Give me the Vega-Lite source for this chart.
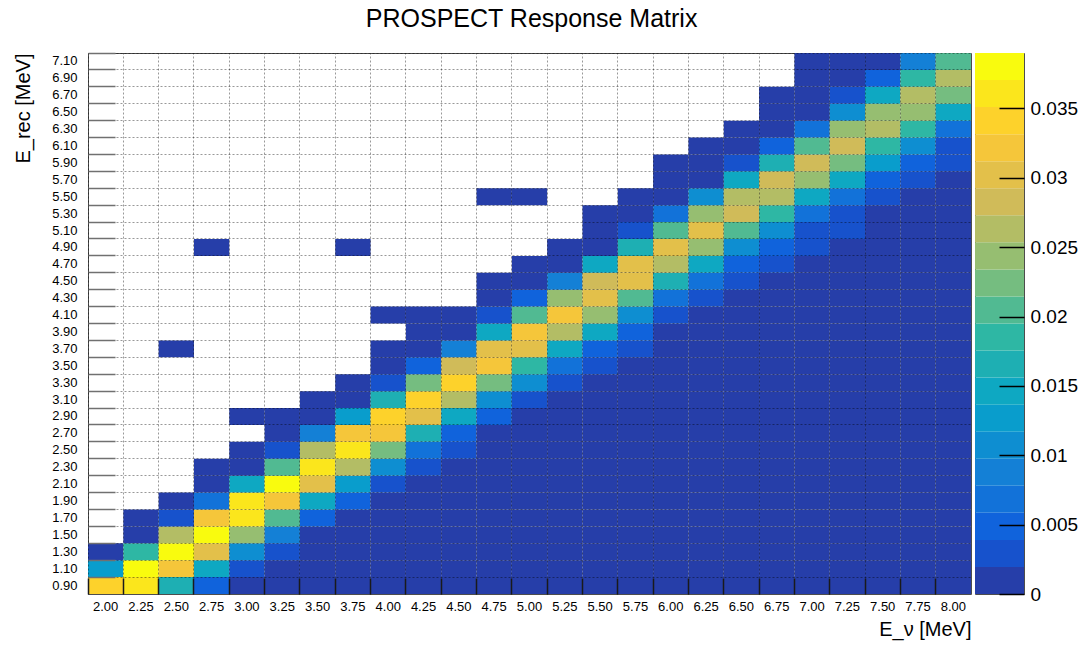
{
"$schema": "https://vega.github.io/schema/vega-lite/v6.json",
"title": {"text": "PROSPECT Response Matrix", "fontSize": 25, "fontWeight": "normal", "font": "Liberation Sans", "anchor": "middle", "offset": 20, "dx": -14, "color": "#000"},
"padding": {"left": 13, "top": 6, "right": 5, "bottom": 2},
"spacing": 2,
"datasets": {
"bands": [
{"lo":0,"hi":0.00195,"mid":0.000975},{"lo":0.00195,"hi":0.0039,"mid":0.002925},{"lo":0.0039,"hi":0.00585,"mid":0.004875},{"lo":0.00585,"hi":0.0078,"mid":0.006825},{"lo":0.0078,"hi":0.00975,"mid":0.008775},{"lo":0.00975,"hi":0.0117,"mid":0.010725},{"lo":0.0117,"hi":0.01365,"mid":0.012675},{"lo":0.01365,"hi":0.0156,"mid":0.014625},{"lo":0.0156,"hi":0.01755,"mid":0.016575},{"lo":0.01755,"hi":0.0195,"mid":0.018525},{"lo":0.0195,"hi":0.02145,"mid":0.020475},{"lo":0.02145,"hi":0.0234,"mid":0.022425},{"lo":0.0234,"hi":0.02535,"mid":0.024375},{"lo":0.02535,"hi":0.0273,"mid":0.026325},{"lo":0.0273,"hi":0.02925,"mid":0.028275},{"lo":0.02925,"hi":0.0312,"mid":0.030225},{"lo":0.0312,"hi":0.03315,"mid":0.032175},{"lo":0.03315,"hi":0.0351,"mid":0.034125},{"lo":0.0351,"hi":0.03705,"mid":0.036075},{"lo":0.03705,"hi":0.039,"mid":0.038025}
],
"cells": [
{"Enu":"2.00","Erec":"0.90","w":0.0341},{"Enu":"2.25","Erec":"0.90","w":0.0361},{"Enu":"2.50","Erec":"0.90","w":0.0166},{"Enu":"2.75","Erec":"0.90","w":0.0049},{"Enu":"3.00","Erec":"0.90","w":0.0005},{"Enu":"3.25","Erec":"0.90","w":0.0005},{"Enu":"3.50","Erec":"0.90","w":0.0005},{"Enu":"3.75","Erec":"0.90","w":0.0005},{"Enu":"4.00","Erec":"0.90","w":0.0005},{"Enu":"4.25","Erec":"0.90","w":0.0005},{"Enu":"4.50","Erec":"0.90","w":0.0005},{"Enu":"4.75","Erec":"0.90","w":0.0005},{"Enu":"5.00","Erec":"0.90","w":0.0005},{"Enu":"5.25","Erec":"0.90","w":0.0005},{"Enu":"5.50","Erec":"0.90","w":0.0005},{"Enu":"5.75","Erec":"0.90","w":0.0005},{"Enu":"6.00","Erec":"0.90","w":0.0005},{"Enu":"6.25","Erec":"0.90","w":0.0005},{"Enu":"6.50","Erec":"0.90","w":0.0005},{"Enu":"6.75","Erec":"0.90","w":0.0005},{"Enu":"7.00","Erec":"0.90","w":0.0005},{"Enu":"7.25","Erec":"0.90","w":0.0005},{"Enu":"7.50","Erec":"0.90","w":0.0005},{"Enu":"7.75","Erec":"0.90","w":0.0005},{"Enu":"8.00","Erec":"0.90","w":0.0005},
{"Enu":"2.00","Erec":"1.10","w":0.0127},{"Enu":"2.25","Erec":"1.10","w":0.038},{"Enu":"2.50","Erec":"1.10","w":0.0322},{"Enu":"2.75","Erec":"1.10","w":0.0146},{"Enu":"3.00","Erec":"1.10","w":0.0029},{"Enu":"3.25","Erec":"1.10","w":0.0005},{"Enu":"3.50","Erec":"1.10","w":0.0005},{"Enu":"3.75","Erec":"1.10","w":0.0005},{"Enu":"4.00","Erec":"1.10","w":0.0005},{"Enu":"4.25","Erec":"1.10","w":0.0005},{"Enu":"4.50","Erec":"1.10","w":0.0005},{"Enu":"4.75","Erec":"1.10","w":0.0005},{"Enu":"5.00","Erec":"1.10","w":0.0005},{"Enu":"5.25","Erec":"1.10","w":0.0005},{"Enu":"5.50","Erec":"1.10","w":0.0005},{"Enu":"5.75","Erec":"1.10","w":0.0005},{"Enu":"6.00","Erec":"1.10","w":0.0005},{"Enu":"6.25","Erec":"1.10","w":0.0005},{"Enu":"6.50","Erec":"1.10","w":0.0005},{"Enu":"6.75","Erec":"1.10","w":0.0005},{"Enu":"7.00","Erec":"1.10","w":0.0005},{"Enu":"7.25","Erec":"1.10","w":0.0005},{"Enu":"7.50","Erec":"1.10","w":0.0005},{"Enu":"7.75","Erec":"1.10","w":0.0005},{"Enu":"8.00","Erec":"1.10","w":0.0005},
{"Enu":"2.00","Erec":"1.30","w":0.0005},{"Enu":"2.25","Erec":"1.30","w":0.0185},{"Enu":"2.50","Erec":"1.30","w":0.038},{"Enu":"2.75","Erec":"1.30","w":0.0302},{"Enu":"3.00","Erec":"1.30","w":0.0107},{"Enu":"3.25","Erec":"1.30","w":0.0029},{"Enu":"3.50","Erec":"1.30","w":0.0005},{"Enu":"3.75","Erec":"1.30","w":0.0005},{"Enu":"4.00","Erec":"1.30","w":0.0005},{"Enu":"4.25","Erec":"1.30","w":0.0005},{"Enu":"4.50","Erec":"1.30","w":0.0005},{"Enu":"4.75","Erec":"1.30","w":0.0005},{"Enu":"5.00","Erec":"1.30","w":0.0005},{"Enu":"5.25","Erec":"1.30","w":0.0005},{"Enu":"5.50","Erec":"1.30","w":0.0005},{"Enu":"5.75","Erec":"1.30","w":0.0005},{"Enu":"6.00","Erec":"1.30","w":0.0005},{"Enu":"6.25","Erec":"1.30","w":0.0005},{"Enu":"6.50","Erec":"1.30","w":0.0005},{"Enu":"6.75","Erec":"1.30","w":0.0005},{"Enu":"7.00","Erec":"1.30","w":0.0005},{"Enu":"7.25","Erec":"1.30","w":0.0005},{"Enu":"7.50","Erec":"1.30","w":0.0005},{"Enu":"7.75","Erec":"1.30","w":0.0005},{"Enu":"8.00","Erec":"1.30","w":0.0005},
{"Enu":"2.25","Erec":"1.50","w":0.0005},{"Enu":"2.50","Erec":"1.50","w":0.0263},{"Enu":"2.75","Erec":"1.50","w":0.038},{"Enu":"3.00","Erec":"1.50","w":0.0244},{"Enu":"3.25","Erec":"1.50","w":0.0088},{"Enu":"3.50","Erec":"1.50","w":0.0005},{"Enu":"3.75","Erec":"1.50","w":0.0005},{"Enu":"4.00","Erec":"1.50","w":0.0005},{"Enu":"4.25","Erec":"1.50","w":0.0005},{"Enu":"4.50","Erec":"1.50","w":0.0005},{"Enu":"4.75","Erec":"1.50","w":0.0005},{"Enu":"5.00","Erec":"1.50","w":0.0005},{"Enu":"5.25","Erec":"1.50","w":0.0005},{"Enu":"5.50","Erec":"1.50","w":0.0005},{"Enu":"5.75","Erec":"1.50","w":0.0005},{"Enu":"6.00","Erec":"1.50","w":0.0005},{"Enu":"6.25","Erec":"1.50","w":0.0005},{"Enu":"6.50","Erec":"1.50","w":0.0005},{"Enu":"6.75","Erec":"1.50","w":0.0005},{"Enu":"7.00","Erec":"1.50","w":0.0005},{"Enu":"7.25","Erec":"1.50","w":0.0005},{"Enu":"7.50","Erec":"1.50","w":0.0005},{"Enu":"7.75","Erec":"1.50","w":0.0005},{"Enu":"8.00","Erec":"1.50","w":0.0005},
{"Enu":"2.25","Erec":"1.70","w":0.0005},{"Enu":"2.50","Erec":"1.70","w":0.0029},{"Enu":"2.75","Erec":"1.70","w":0.0322},{"Enu":"3.00","Erec":"1.70","w":0.0361},{"Enu":"3.25","Erec":"1.70","w":0.0205},{"Enu":"3.50","Erec":"1.70","w":0.0049},{"Enu":"3.75","Erec":"1.70","w":0.0005},{"Enu":"4.00","Erec":"1.70","w":0.0005},{"Enu":"4.25","Erec":"1.70","w":0.0005},{"Enu":"4.50","Erec":"1.70","w":0.0005},{"Enu":"4.75","Erec":"1.70","w":0.0005},{"Enu":"5.00","Erec":"1.70","w":0.0005},{"Enu":"5.25","Erec":"1.70","w":0.0005},{"Enu":"5.50","Erec":"1.70","w":0.0005},{"Enu":"5.75","Erec":"1.70","w":0.0005},{"Enu":"6.00","Erec":"1.70","w":0.0005},{"Enu":"6.25","Erec":"1.70","w":0.0005},{"Enu":"6.50","Erec":"1.70","w":0.0005},{"Enu":"6.75","Erec":"1.70","w":0.0005},{"Enu":"7.00","Erec":"1.70","w":0.0005},{"Enu":"7.25","Erec":"1.70","w":0.0005},{"Enu":"7.50","Erec":"1.70","w":0.0005},{"Enu":"7.75","Erec":"1.70","w":0.0005},{"Enu":"8.00","Erec":"1.70","w":0.0005},
{"Enu":"2.50","Erec":"1.90","w":0.0005},{"Enu":"2.75","Erec":"1.90","w":0.0068},{"Enu":"3.00","Erec":"1.90","w":0.0361},{"Enu":"3.25","Erec":"1.90","w":0.0322},{"Enu":"3.50","Erec":"1.90","w":0.0146},{"Enu":"3.75","Erec":"1.90","w":0.0049},{"Enu":"4.00","Erec":"1.90","w":0.0005},{"Enu":"4.25","Erec":"1.90","w":0.0005},{"Enu":"4.50","Erec":"1.90","w":0.0005},{"Enu":"4.75","Erec":"1.90","w":0.0005},{"Enu":"5.00","Erec":"1.90","w":0.0005},{"Enu":"5.25","Erec":"1.90","w":0.0005},{"Enu":"5.50","Erec":"1.90","w":0.0005},{"Enu":"5.75","Erec":"1.90","w":0.0005},{"Enu":"6.00","Erec":"1.90","w":0.0005},{"Enu":"6.25","Erec":"1.90","w":0.0005},{"Enu":"6.50","Erec":"1.90","w":0.0005},{"Enu":"6.75","Erec":"1.90","w":0.0005},{"Enu":"7.00","Erec":"1.90","w":0.0005},{"Enu":"7.25","Erec":"1.90","w":0.0005},{"Enu":"7.50","Erec":"1.90","w":0.0005},{"Enu":"7.75","Erec":"1.90","w":0.0005},{"Enu":"8.00","Erec":"1.90","w":0.0005},
{"Enu":"2.75","Erec":"2.10","w":0.0005},{"Enu":"3.00","Erec":"2.10","w":0.0146},{"Enu":"3.25","Erec":"2.10","w":0.038},{"Enu":"3.50","Erec":"2.10","w":0.0302},{"Enu":"3.75","Erec":"2.10","w":0.0127},{"Enu":"4.00","Erec":"2.10","w":0.0029},{"Enu":"4.25","Erec":"2.10","w":0.0005},{"Enu":"4.50","Erec":"2.10","w":0.0005},{"Enu":"4.75","Erec":"2.10","w":0.0005},{"Enu":"5.00","Erec":"2.10","w":0.0005},{"Enu":"5.25","Erec":"2.10","w":0.0005},{"Enu":"5.50","Erec":"2.10","w":0.0005},{"Enu":"5.75","Erec":"2.10","w":0.0005},{"Enu":"6.00","Erec":"2.10","w":0.0005},{"Enu":"6.25","Erec":"2.10","w":0.0005},{"Enu":"6.50","Erec":"2.10","w":0.0005},{"Enu":"6.75","Erec":"2.10","w":0.0005},{"Enu":"7.00","Erec":"2.10","w":0.0005},{"Enu":"7.25","Erec":"2.10","w":0.0005},{"Enu":"7.50","Erec":"2.10","w":0.0005},{"Enu":"7.75","Erec":"2.10","w":0.0005},{"Enu":"8.00","Erec":"2.10","w":0.0005},
{"Enu":"2.75","Erec":"2.30","w":0.0005},{"Enu":"3.00","Erec":"2.30","w":0.0005},{"Enu":"3.25","Erec":"2.30","w":0.0205},{"Enu":"3.50","Erec":"2.30","w":0.0361},{"Enu":"3.75","Erec":"2.30","w":0.0263},{"Enu":"4.00","Erec":"2.30","w":0.0107},{"Enu":"4.25","Erec":"2.30","w":0.0029},{"Enu":"4.50","Erec":"2.30","w":0.0005},{"Enu":"4.75","Erec":"2.30","w":0.0005},{"Enu":"5.00","Erec":"2.30","w":0.0005},{"Enu":"5.25","Erec":"2.30","w":0.0005},{"Enu":"5.50","Erec":"2.30","w":0.0005},{"Enu":"5.75","Erec":"2.30","w":0.0005},{"Enu":"6.00","Erec":"2.30","w":0.0005},{"Enu":"6.25","Erec":"2.30","w":0.0005},{"Enu":"6.50","Erec":"2.30","w":0.0005},{"Enu":"6.75","Erec":"2.30","w":0.0005},{"Enu":"7.00","Erec":"2.30","w":0.0005},{"Enu":"7.25","Erec":"2.30","w":0.0005},{"Enu":"7.50","Erec":"2.30","w":0.0005},{"Enu":"7.75","Erec":"2.30","w":0.0005},{"Enu":"8.00","Erec":"2.30","w":0.0005},
{"Enu":"3.00","Erec":"2.50","w":0.0005},{"Enu":"3.25","Erec":"2.50","w":0.0029},{"Enu":"3.50","Erec":"2.50","w":0.0263},{"Enu":"3.75","Erec":"2.50","w":0.0361},{"Enu":"4.00","Erec":"2.50","w":0.0224},{"Enu":"4.25","Erec":"2.50","w":0.0068},{"Enu":"4.50","Erec":"2.50","w":0.0029},{"Enu":"4.75","Erec":"2.50","w":0.0005},{"Enu":"5.00","Erec":"2.50","w":0.0005},{"Enu":"5.25","Erec":"2.50","w":0.0005},{"Enu":"5.50","Erec":"2.50","w":0.0005},{"Enu":"5.75","Erec":"2.50","w":0.0005},{"Enu":"6.00","Erec":"2.50","w":0.0005},{"Enu":"6.25","Erec":"2.50","w":0.0005},{"Enu":"6.50","Erec":"2.50","w":0.0005},{"Enu":"6.75","Erec":"2.50","w":0.0005},{"Enu":"7.00","Erec":"2.50","w":0.0005},{"Enu":"7.25","Erec":"2.50","w":0.0005},{"Enu":"7.50","Erec":"2.50","w":0.0005},{"Enu":"7.75","Erec":"2.50","w":0.0005},{"Enu":"8.00","Erec":"2.50","w":0.0005},
{"Enu":"3.25","Erec":"2.70","w":0.0005},{"Enu":"3.50","Erec":"2.70","w":0.0088},{"Enu":"3.75","Erec":"2.70","w":0.0322},{"Enu":"4.00","Erec":"2.70","w":0.0322},{"Enu":"4.25","Erec":"2.70","w":0.0166},{"Enu":"4.50","Erec":"2.70","w":0.0049},{"Enu":"4.75","Erec":"2.70","w":0.0005},{"Enu":"5.00","Erec":"2.70","w":0.0005},{"Enu":"5.25","Erec":"2.70","w":0.0005},{"Enu":"5.50","Erec":"2.70","w":0.0005},{"Enu":"5.75","Erec":"2.70","w":0.0005},{"Enu":"6.00","Erec":"2.70","w":0.0005},{"Enu":"6.25","Erec":"2.70","w":0.0005},{"Enu":"6.50","Erec":"2.70","w":0.0005},{"Enu":"6.75","Erec":"2.70","w":0.0005},{"Enu":"7.00","Erec":"2.70","w":0.0005},{"Enu":"7.25","Erec":"2.70","w":0.0005},{"Enu":"7.50","Erec":"2.70","w":0.0005},{"Enu":"7.75","Erec":"2.70","w":0.0005},{"Enu":"8.00","Erec":"2.70","w":0.0005},
{"Enu":"3.00","Erec":"2.90","w":0.0005},{"Enu":"3.25","Erec":"2.90","w":0.0005},{"Enu":"3.50","Erec":"2.90","w":0.0005},{"Enu":"3.75","Erec":"2.90","w":0.0127},{"Enu":"4.00","Erec":"2.90","w":0.0341},{"Enu":"4.25","Erec":"2.90","w":0.0302},{"Enu":"4.50","Erec":"2.90","w":0.0146},{"Enu":"4.75","Erec":"2.90","w":0.0049},{"Enu":"5.00","Erec":"2.90","w":0.0005},{"Enu":"5.25","Erec":"2.90","w":0.0005},{"Enu":"5.50","Erec":"2.90","w":0.0005},{"Enu":"5.75","Erec":"2.90","w":0.0005},{"Enu":"6.00","Erec":"2.90","w":0.0005},{"Enu":"6.25","Erec":"2.90","w":0.0005},{"Enu":"6.50","Erec":"2.90","w":0.0005},{"Enu":"6.75","Erec":"2.90","w":0.0005},{"Enu":"7.00","Erec":"2.90","w":0.0005},{"Enu":"7.25","Erec":"2.90","w":0.0005},{"Enu":"7.50","Erec":"2.90","w":0.0005},{"Enu":"7.75","Erec":"2.90","w":0.0005},{"Enu":"8.00","Erec":"2.90","w":0.0005},
{"Enu":"3.50","Erec":"3.10","w":0.0005},{"Enu":"3.75","Erec":"3.10","w":0.0005},{"Enu":"4.00","Erec":"3.10","w":0.0166},{"Enu":"4.25","Erec":"3.10","w":0.0341},{"Enu":"4.50","Erec":"3.10","w":0.0263},{"Enu":"4.75","Erec":"3.10","w":0.0107},{"Enu":"5.00","Erec":"3.10","w":0.0029},{"Enu":"5.25","Erec":"3.10","w":0.0005},{"Enu":"5.50","Erec":"3.10","w":0.0005},{"Enu":"5.75","Erec":"3.10","w":0.0005},{"Enu":"6.00","Erec":"3.10","w":0.0005},{"Enu":"6.25","Erec":"3.10","w":0.0005},{"Enu":"6.50","Erec":"3.10","w":0.0005},{"Enu":"6.75","Erec":"3.10","w":0.0005},{"Enu":"7.00","Erec":"3.10","w":0.0005},{"Enu":"7.25","Erec":"3.10","w":0.0005},{"Enu":"7.50","Erec":"3.10","w":0.0005},{"Enu":"7.75","Erec":"3.10","w":0.0005},{"Enu":"8.00","Erec":"3.10","w":0.0005},
{"Enu":"3.75","Erec":"3.30","w":0.0005},{"Enu":"4.00","Erec":"3.30","w":0.0029},{"Enu":"4.25","Erec":"3.30","w":0.0224},{"Enu":"4.50","Erec":"3.30","w":0.0341},{"Enu":"4.75","Erec":"3.30","w":0.0224},{"Enu":"5.00","Erec":"3.30","w":0.0107},{"Enu":"5.25","Erec":"3.30","w":0.0029},{"Enu":"5.50","Erec":"3.30","w":0.0005},{"Enu":"5.75","Erec":"3.30","w":0.0005},{"Enu":"6.00","Erec":"3.30","w":0.0005},{"Enu":"6.25","Erec":"3.30","w":0.0005},{"Enu":"6.50","Erec":"3.30","w":0.0005},{"Enu":"6.75","Erec":"3.30","w":0.0005},{"Enu":"7.00","Erec":"3.30","w":0.0005},{"Enu":"7.25","Erec":"3.30","w":0.0005},{"Enu":"7.50","Erec":"3.30","w":0.0005},{"Enu":"7.75","Erec":"3.30","w":0.0005},{"Enu":"8.00","Erec":"3.30","w":0.0005},
{"Enu":"4.00","Erec":"3.50","w":0.0005},{"Enu":"4.25","Erec":"3.50","w":0.0049},{"Enu":"4.50","Erec":"3.50","w":0.0283},{"Enu":"4.75","Erec":"3.50","w":0.0322},{"Enu":"5.00","Erec":"3.50","w":0.0185},{"Enu":"5.25","Erec":"3.50","w":0.0068},{"Enu":"5.50","Erec":"3.50","w":0.0029},{"Enu":"5.75","Erec":"3.50","w":0.0005},{"Enu":"6.00","Erec":"3.50","w":0.0005},{"Enu":"6.25","Erec":"3.50","w":0.0005},{"Enu":"6.50","Erec":"3.50","w":0.0005},{"Enu":"6.75","Erec":"3.50","w":0.0005},{"Enu":"7.00","Erec":"3.50","w":0.0005},{"Enu":"7.25","Erec":"3.50","w":0.0005},{"Enu":"7.50","Erec":"3.50","w":0.0005},{"Enu":"7.75","Erec":"3.50","w":0.0005},{"Enu":"8.00","Erec":"3.50","w":0.0005},
{"Enu":"2.50","Erec":"3.70","w":0.0005},{"Enu":"4.00","Erec":"3.70","w":0.0005},{"Enu":"4.25","Erec":"3.70","w":0.0005},{"Enu":"4.50","Erec":"3.70","w":0.0088},{"Enu":"4.75","Erec":"3.70","w":0.0302},{"Enu":"5.00","Erec":"3.70","w":0.0302},{"Enu":"5.25","Erec":"3.70","w":0.0146},{"Enu":"5.50","Erec":"3.70","w":0.0049},{"Enu":"5.75","Erec":"3.70","w":0.0029},{"Enu":"6.00","Erec":"3.70","w":0.0005},{"Enu":"6.25","Erec":"3.70","w":0.0005},{"Enu":"6.50","Erec":"3.70","w":0.0005},{"Enu":"6.75","Erec":"3.70","w":0.0005},{"Enu":"7.00","Erec":"3.70","w":0.0005},{"Enu":"7.25","Erec":"3.70","w":0.0005},{"Enu":"7.50","Erec":"3.70","w":0.0005},{"Enu":"7.75","Erec":"3.70","w":0.0005},{"Enu":"8.00","Erec":"3.70","w":0.0005},
{"Enu":"4.25","Erec":"3.90","w":0.0005},{"Enu":"4.50","Erec":"3.90","w":0.0005},{"Enu":"4.75","Erec":"3.90","w":0.0146},{"Enu":"5.00","Erec":"3.90","w":0.0322},{"Enu":"5.25","Erec":"3.90","w":0.0263},{"Enu":"5.50","Erec":"3.90","w":0.0146},{"Enu":"5.75","Erec":"3.90","w":0.0049},{"Enu":"6.00","Erec":"3.90","w":0.0005},{"Enu":"6.25","Erec":"3.90","w":0.0005},{"Enu":"6.50","Erec":"3.90","w":0.0005},{"Enu":"6.75","Erec":"3.90","w":0.0005},{"Enu":"7.00","Erec":"3.90","w":0.0005},{"Enu":"7.25","Erec":"3.90","w":0.0005},{"Enu":"7.50","Erec":"3.90","w":0.0005},{"Enu":"7.75","Erec":"3.90","w":0.0005},{"Enu":"8.00","Erec":"3.90","w":0.0005},
{"Enu":"4.00","Erec":"4.10","w":0.0005},{"Enu":"4.25","Erec":"4.10","w":0.0005},{"Enu":"4.50","Erec":"4.10","w":0.0005},{"Enu":"4.75","Erec":"4.10","w":0.0029},{"Enu":"5.00","Erec":"4.10","w":0.0205},{"Enu":"5.25","Erec":"4.10","w":0.0322},{"Enu":"5.50","Erec":"4.10","w":0.0244},{"Enu":"5.75","Erec":"4.10","w":0.0107},{"Enu":"6.00","Erec":"4.10","w":0.0029},{"Enu":"6.25","Erec":"4.10","w":0.0005},{"Enu":"6.50","Erec":"4.10","w":0.0005},{"Enu":"6.75","Erec":"4.10","w":0.0005},{"Enu":"7.00","Erec":"4.10","w":0.0005},{"Enu":"7.25","Erec":"4.10","w":0.0005},{"Enu":"7.50","Erec":"4.10","w":0.0005},{"Enu":"7.75","Erec":"4.10","w":0.0005},{"Enu":"8.00","Erec":"4.10","w":0.0005},
{"Enu":"4.75","Erec":"4.30","w":0.0005},{"Enu":"5.00","Erec":"4.30","w":0.0049},{"Enu":"5.25","Erec":"4.30","w":0.0244},{"Enu":"5.50","Erec":"4.30","w":0.0302},{"Enu":"5.75","Erec":"4.30","w":0.0205},{"Enu":"6.00","Erec":"4.30","w":0.0068},{"Enu":"6.25","Erec":"4.30","w":0.0029},{"Enu":"6.50","Erec":"4.30","w":0.0005},{"Enu":"6.75","Erec":"4.30","w":0.0005},{"Enu":"7.00","Erec":"4.30","w":0.0005},{"Enu":"7.25","Erec":"4.30","w":0.0005},{"Enu":"7.50","Erec":"4.30","w":0.0005},{"Enu":"7.75","Erec":"4.30","w":0.0005},{"Enu":"8.00","Erec":"4.30","w":0.0005},
{"Enu":"4.75","Erec":"4.50","w":0.0005},{"Enu":"5.00","Erec":"4.50","w":0.0005},{"Enu":"5.25","Erec":"4.50","w":0.0088},{"Enu":"5.50","Erec":"4.50","w":0.0283},{"Enu":"5.75","Erec":"4.50","w":0.0302},{"Enu":"6.00","Erec":"4.50","w":0.0166},{"Enu":"6.25","Erec":"4.50","w":0.0068},{"Enu":"6.50","Erec":"4.50","w":0.0029},{"Enu":"6.75","Erec":"4.50","w":0.0005},{"Enu":"7.00","Erec":"4.50","w":0.0005},{"Enu":"7.25","Erec":"4.50","w":0.0005},{"Enu":"7.50","Erec":"4.50","w":0.0005},{"Enu":"7.75","Erec":"4.50","w":0.0005},{"Enu":"8.00","Erec":"4.50","w":0.0005},
{"Enu":"5.00","Erec":"4.70","w":0.0005},{"Enu":"5.25","Erec":"4.70","w":0.0005},{"Enu":"5.50","Erec":"4.70","w":0.0146},{"Enu":"5.75","Erec":"4.70","w":0.0302},{"Enu":"6.00","Erec":"4.70","w":0.0263},{"Enu":"6.25","Erec":"4.70","w":0.0146},{"Enu":"6.50","Erec":"4.70","w":0.0049},{"Enu":"6.75","Erec":"4.70","w":0.0029},{"Enu":"7.00","Erec":"4.70","w":0.0005},{"Enu":"7.25","Erec":"4.70","w":0.0005},{"Enu":"7.50","Erec":"4.70","w":0.0005},{"Enu":"7.75","Erec":"4.70","w":0.0005},{"Enu":"8.00","Erec":"4.70","w":0.0005},
{"Enu":"2.75","Erec":"4.90","w":0.0005},{"Enu":"3.75","Erec":"4.90","w":0.0005},{"Enu":"5.25","Erec":"4.90","w":0.0005},{"Enu":"5.50","Erec":"4.90","w":0.0005},{"Enu":"5.75","Erec":"4.90","w":0.0166},{"Enu":"6.00","Erec":"4.90","w":0.0302},{"Enu":"6.25","Erec":"4.90","w":0.0244},{"Enu":"6.50","Erec":"4.90","w":0.0107},{"Enu":"6.75","Erec":"4.90","w":0.0049},{"Enu":"7.00","Erec":"4.90","w":0.0029},{"Enu":"7.25","Erec":"4.90","w":0.0005},{"Enu":"7.50","Erec":"4.90","w":0.0005},{"Enu":"7.75","Erec":"4.90","w":0.0005},{"Enu":"8.00","Erec":"4.90","w":0.0005},
{"Enu":"5.50","Erec":"5.10","w":0.0005},{"Enu":"5.75","Erec":"5.10","w":0.0029},{"Enu":"6.00","Erec":"5.10","w":0.0205},{"Enu":"6.25","Erec":"5.10","w":0.0302},{"Enu":"6.50","Erec":"5.10","w":0.0205},{"Enu":"6.75","Erec":"5.10","w":0.0107},{"Enu":"7.00","Erec":"5.10","w":0.0029},{"Enu":"7.25","Erec":"5.10","w":0.0029},{"Enu":"7.50","Erec":"5.10","w":0.0005},{"Enu":"7.75","Erec":"5.10","w":0.0005},{"Enu":"8.00","Erec":"5.10","w":0.0005},
{"Enu":"5.50","Erec":"5.30","w":0.0005},{"Enu":"5.75","Erec":"5.30","w":0.0005},{"Enu":"6.00","Erec":"5.30","w":0.0068},{"Enu":"6.25","Erec":"5.30","w":0.0244},{"Enu":"6.50","Erec":"5.30","w":0.0283},{"Enu":"6.75","Erec":"5.30","w":0.0185},{"Enu":"7.00","Erec":"5.30","w":0.0068},{"Enu":"7.25","Erec":"5.30","w":0.0029},{"Enu":"7.50","Erec":"5.30","w":0.0005},{"Enu":"7.75","Erec":"5.30","w":0.0005},{"Enu":"8.00","Erec":"5.30","w":0.0005},
{"Enu":"4.75","Erec":"5.50","w":0.0005},{"Enu":"5.00","Erec":"5.50","w":0.0005},{"Enu":"5.75","Erec":"5.50","w":0.0005},{"Enu":"6.00","Erec":"5.50","w":0.0005},{"Enu":"6.25","Erec":"5.50","w":0.0107},{"Enu":"6.50","Erec":"5.50","w":0.0263},{"Enu":"6.75","Erec":"5.50","w":0.0263},{"Enu":"7.00","Erec":"5.50","w":0.0146},{"Enu":"7.25","Erec":"5.50","w":0.0068},{"Enu":"7.50","Erec":"5.50","w":0.0029},{"Enu":"7.75","Erec":"5.50","w":0.0005},{"Enu":"8.00","Erec":"5.50","w":0.0005},
{"Enu":"6.00","Erec":"5.70","w":0.0005},{"Enu":"6.25","Erec":"5.70","w":0.0005},{"Enu":"6.50","Erec":"5.70","w":0.0146},{"Enu":"6.75","Erec":"5.70","w":0.0283},{"Enu":"7.00","Erec":"5.70","w":0.0244},{"Enu":"7.25","Erec":"5.70","w":0.0146},{"Enu":"7.50","Erec":"5.70","w":0.0049},{"Enu":"7.75","Erec":"5.70","w":0.0029},{"Enu":"8.00","Erec":"5.70","w":0.0005},
{"Enu":"6.00","Erec":"5.90","w":0.0005},{"Enu":"6.25","Erec":"5.90","w":0.0005},{"Enu":"6.50","Erec":"5.90","w":0.0029},{"Enu":"6.75","Erec":"5.90","w":0.0166},{"Enu":"7.00","Erec":"5.90","w":0.0283},{"Enu":"7.25","Erec":"5.90","w":0.0224},{"Enu":"7.50","Erec":"5.90","w":0.0127},{"Enu":"7.75","Erec":"5.90","w":0.0049},{"Enu":"8.00","Erec":"5.90","w":0.0029},
{"Enu":"6.25","Erec":"6.10","w":0.0005},{"Enu":"6.50","Erec":"6.10","w":0.0005},{"Enu":"6.75","Erec":"6.10","w":0.0049},{"Enu":"7.00","Erec":"6.10","w":0.0205},{"Enu":"7.25","Erec":"6.10","w":0.0283},{"Enu":"7.50","Erec":"6.10","w":0.0185},{"Enu":"7.75","Erec":"6.10","w":0.0107},{"Enu":"8.00","Erec":"6.10","w":0.0029},
{"Enu":"6.50","Erec":"6.30","w":0.0005},{"Enu":"6.75","Erec":"6.30","w":0.0005},{"Enu":"7.00","Erec":"6.30","w":0.0068},{"Enu":"7.25","Erec":"6.30","w":0.0244},{"Enu":"7.50","Erec":"6.30","w":0.0263},{"Enu":"7.75","Erec":"6.30","w":0.0185},{"Enu":"8.00","Erec":"6.30","w":0.0068},
{"Enu":"6.75","Erec":"6.50","w":0.0005},{"Enu":"7.00","Erec":"6.50","w":0.0005},{"Enu":"7.25","Erec":"6.50","w":0.0107},{"Enu":"7.50","Erec":"6.50","w":0.0244},{"Enu":"7.75","Erec":"6.50","w":0.0244},{"Enu":"8.00","Erec":"6.50","w":0.0146},
{"Enu":"6.75","Erec":"6.70","w":0.0005},{"Enu":"7.00","Erec":"6.70","w":0.0005},{"Enu":"7.25","Erec":"6.70","w":0.0029},{"Enu":"7.50","Erec":"6.70","w":0.0146},{"Enu":"7.75","Erec":"6.70","w":0.0263},{"Enu":"8.00","Erec":"6.70","w":0.0224},
{"Enu":"7.00","Erec":"6.90","w":0.0005},{"Enu":"7.25","Erec":"6.90","w":0.0005},{"Enu":"7.50","Erec":"6.90","w":0.0049},{"Enu":"7.75","Erec":"6.90","w":0.0185},{"Enu":"8.00","Erec":"6.90","w":0.0263},
{"Enu":"7.00","Erec":"7.10","w":0.0005},{"Enu":"7.25","Erec":"7.10","w":0.0005},{"Enu":"7.50","Erec":"7.10","w":0.0005},{"Enu":"7.75","Erec":"7.10","w":0.0088},{"Enu":"8.00","Erec":"7.10","w":0.0205}
]
},
"hconcat": [
{
"width": 883,
"height": 541,
"data": {"name": "cells"},
"mark": {"type": "rect"},
"encoding": {
"x": {"field": "Enu", "type": "ordinal",
 "scale": {"domain": ["2.00","2.25","2.50","2.75","3.00","3.25","3.50","3.75","4.00","4.25","4.50","4.75","5.00","5.25","5.50","5.75","6.00","6.25","6.50","6.75","7.00","7.25","7.50","7.75","8.00"], "paddingInner": 0, "paddingOuter": 0},
 "axis": {"title": "E_ν [MeV]", "titleAnchor": "end", "titleFontSize": 20, "titleFontWeight": "normal", "titlePadding": 6, "labelAngle": 0, "labelFontSize": 13, "labelPadding": 22, "bandPosition": 0, "grid": true, "gridColor": "#000", "gridOpacity": 0.4, "gridDash": [2, 2], "ticks": true, "tickSize": -16, "tickColor": "#1a1a1a", "tickWidth": 1.5, "domain": false, "zindex": 1}},
"y": {"field": "Erec", "type": "ordinal",
 "scale": {"domain": ["7.10","6.90","6.70","6.50","6.30","6.10","5.90","5.70","5.50","5.30","5.10","4.90","4.70","4.50","4.30","4.10","3.90","3.70","3.50","3.30","3.10","2.90","2.70","2.50","2.30","2.10","1.90","1.70","1.50","1.30","1.10","0.90"], "paddingInner": 0, "paddingOuter": 0},
 "axis": {"title": "E_rec [MeV]", "titleAnchor": "start", "titleAlign": "right", "titleFontSize": 20, "titleFontWeight": "normal", "titlePadding": 18, "labelFontSize": 13, "labelPadding": 38, "bandPosition": 0, "grid": true, "gridColor": "#000", "gridOpacity": 0.4, "gridDash": [2, 2], "ticks": true, "tickSize": -27, "tickColor": "#707070", "tickWidth": 1.5, "domain": false, "zindex": 1}},
"color": {"field": "w", "type": "quantitative",
 "scale": {"type": "quantize", "domain": [0, 0.039], "range": ["#263ea9","#1752cc","#1063dc","#1272d9","#1480d6","#0e8ed1","#099dcc","#0ea8c2","#1eafb3","#2eb7a4","#51ba92","#75bd80","#96be71","#b3bd65","#d0bb59","#e3c04a","#f5c63a","#fdd22b","#fbe61c","#f9fb0e"]},
 "legend": null}
}
},
{
"width": 49,
"height": 541,
"data": {"name": "bands"},
"mark": {"type": "rect"},
"encoding": {
"x": {"datum": 0, "type": "quantitative", "scale": {"domain": [0, 1], "nice": false}, "axis": null},
"x2": {"datum": 1},
"y": {"field": "lo", "type": "quantitative",
 "scale": {"domain": [0, 0.039], "nice": false, "zero": false},
 "axis": {"orient": "right", "title": null, "values": [0, 0.005, 0.01, 0.015, 0.02, 0.025, 0.03, 0.035], "format": "~g", "labelFontSize": 19, "labelPadding": 31, "tickSize": -25, "tickColor": "#000", "tickWidth": 1.5, "grid": false, "domain": false, "zindex": 1}},
"y2": {"field": "hi"},
"color": {"field": "mid", "type": "quantitative",
 "scale": {"type": "quantize", "domain": [0, 0.039], "range": ["#263ea9","#1752cc","#1063dc","#1272d9","#1480d6","#0e8ed1","#099dcc","#0ea8c2","#1eafb3","#2eb7a4","#51ba92","#75bd80","#96be71","#b3bd65","#d0bb59","#e3c04a","#f5c63a","#fdd22b","#fbe61c","#f9fb0e"]},
 "legend": null}
}
}
],
"config": {
"font": "Liberation Sans",
"view": {"stroke": "#4d4d4d", "strokeWidth": 1},
"axis": {"labelColor": "#000", "titleColor": "#000", "labelFont": "Liberation Sans", "titleFont": "Liberation Sans"}
}
}
